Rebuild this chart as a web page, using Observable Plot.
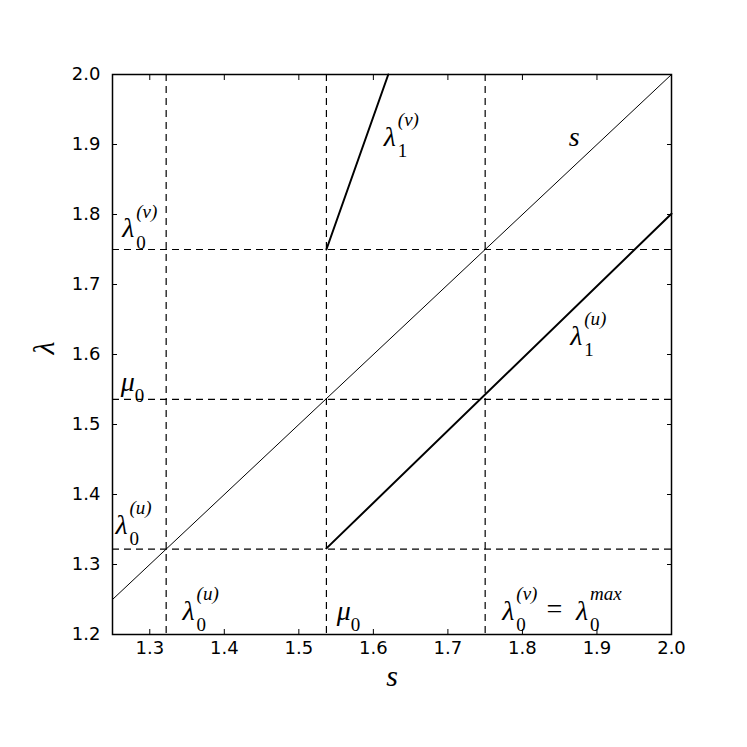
<!DOCTYPE html>
<html>
<head>
<meta charset="utf-8">
<script src="https://cdn.jsdelivr.net/npm/d3@7"></script>
<script src="https://cdn.jsdelivr.net/npm/@observablehq/plot@0.6"></script>
<style>
  html, body { margin: 0; padding: 0; background: #fff; }
  #chart { width: 747px; height: 747px; }
</style>
</head>
<body>
<div id="chart"></div>
<script>
// ---- data ----
const xTicks = [1.3, 1.4, 1.5, 1.6, 1.7, 1.8, 1.9, 2.0];
const yTicks = [1.2, 1.3, 1.4, 1.5, 1.6, 1.7, 1.8, 1.9, 2.0];

const sX = [1.25, 2.0];
const sY = [1.25, 2.0];
const lam1uX = [1.537, 2.0];
const lam1uY = [1.323, 1.801];
const lam1vX = [1.537, 1.620];
const lam1vY = [1.75, 2.0];

const vDashes = [1.322, 1.537, 1.75];
const hDashes = [1.322, 1.536, 1.75];

const labelBase = ["λ", "μ", "λ", "λ", "μ", "λ", "=", "λ", "λ", "s", "λ"];
const labelSub  = ["0", "0", "0", "0", "0", "0", "",  "0", "1", "",  "1"];
const labelSup  = ["(v)", "", "(u)", "(u)", "", "(v)", "", "max", "(v)", "", "(u)"];
const labelX    = [1.263, 1.261, 1.254, 1.344, 1.551, 1.773, 1.830, 1.872, 1.614, 1.862, 1.864];
const labelY    = [1.780, 1.561, 1.357, 1.233, 1.233, 1.234, 1.237, 1.234, 1.911, 1.911, 1.626];

const xLabel = "s";
const yLabel = "λ";

// ---- build ----
const toLine = (xs, ys) => xs.map((x, i) => ({x, y: ys[i]}));
const labels = labelBase.map((b, i) => ({x: labelX[i], y: labelY[i], base: b, sub: labelSub[i], sup: labelSup[i]}));

const serif = "'Liberation Serif', 'DejaVu Serif', serif";
const fmt = d3.format(".1f");

const chart = Plot.plot({
  width: 747,
  height: 747,
  marginLeft: 112,
  marginRight: 76,
  marginTop: 74,
  marginBottom: 113,
  style: {fontFamily: "'DejaVu Sans', sans-serif", fontSize: "18px", color: "#000", background: "#fff"},
  x: {domain: [1.25, 2.0]},
  y: {domain: [1.2, 2.0]},
  marks: [
    Plot.ruleX(vDashes, {stroke: "black", strokeWidth: 1.2, strokeDasharray: "7,5"}),
    Plot.ruleY(hDashes, {stroke: "black", strokeWidth: 1.2, strokeDasharray: "7,5"}),
    Plot.line(toLine(sX, sY), {x: "x", y: "y", stroke: "black", strokeWidth: 1}),
    Plot.line(toLine(lam1uX, lam1uY), {x: "x", y: "y", stroke: "black", strokeWidth: 2}),
    Plot.line(toLine(lam1vX, lam1vY), {x: "x", y: "y", stroke: "black", strokeWidth: 2}),
    // annotations
    Plot.text(labels, {x: "x", y: "y", text: "base", textAnchor: "start", lineAnchor: "middle",
      fontFamily: serif, fontStyle: "italic", fontSize: 28, fill: "black"}),
    Plot.text(labels, {x: "x", y: "y", text: "sub", textAnchor: "start", lineAnchor: "middle",
      dx: 14, dy: 14, fontFamily: serif, fontSize: 19, fill: "black"}),
    Plot.text(labels, {x: "x", y: "y", text: "sup", textAnchor: "start", lineAnchor: "middle",
      dx: 14, dy: -17, fontFamily: serif, fontStyle: "italic", fontSize: 19, fill: "black"}),
    // axes
    Plot.axisX(xTicks, {anchor: "bottom", tickSize: -5, tickPadding: 12, tickFormat: fmt, label: null, fontSize: 18}),
    Plot.axisX(xTicks, {anchor: "top", tickSize: -5, tickFormat: () => "", label: null}),
    Plot.axisY(yTicks, {anchor: "left", tickSize: -5, tickPadding: 17, tickFormat: fmt, label: null, fontSize: 18}),
    Plot.axisY(yTicks, {anchor: "right", tickSize: -5, tickFormat: () => "", label: null}),
    Plot.text([xLabel], {frameAnchor: "bottom", text: d => d, dy: 51, fontFamily: serif, fontStyle: "italic", fontSize: 30, fill: "black"}),
    Plot.text([yLabel], {frameAnchor: "left", text: d => d, dx: -68, rotate: -90, fontFamily: serif, fontStyle: "italic", fontSize: 30, fill: "black"}),
    Plot.frame({stroke: "black", strokeWidth: 1.5})
  ]
});
document.getElementById("chart").appendChild(chart);
</script>
</body>
</html>
